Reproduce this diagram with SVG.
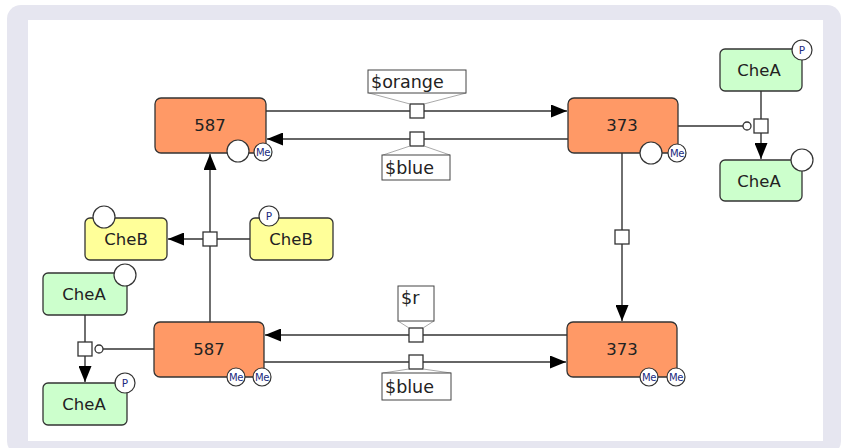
<svg xmlns="http://www.w3.org/2000/svg" width="841" height="448" viewBox="0 0 841 448">
<defs>
<style>
.frame{fill:#e6e6f0}
.inner{fill:#ffffff}
.orange{fill:#ff9966;stroke:#333;stroke-width:1.3}
.green{fill:#ccffcc;stroke:#333;stroke-width:1.3}
.yellow{fill:#ffff99;stroke:#333;stroke-width:1.3}
.sv{fill:#fff;stroke:#333;stroke-width:1.2}
.lbl{font-family:"DejaVu Sans",sans-serif;font-size:16.5px;fill:#222;text-anchor:middle}
.big{font-family:"DejaVu Sans",sans-serif;font-size:17.5px;fill:#222}
.me{font-family:"DejaVu Sans",sans-serif;font-size:10px;fill:#1a2a80;text-anchor:middle;letter-spacing:-0.5px}
.p{font-family:"DejaVu Sans",sans-serif;font-size:10.5px;fill:#1a2a80;text-anchor:middle}
.ln{fill:none;stroke:#333;stroke-width:1.4}
.proc{fill:#fff;stroke:#333;stroke-width:1.3}
.box{fill:#fff;stroke:#444;stroke-width:1}
.call{fill:none;stroke:#aaa;stroke-width:1}
</style>
<marker id="arr" markerUnits="userSpaceOnUse" markerWidth="17" markerHeight="13" refX="16" refY="6.5" orient="auto">
<path d="M0,0 L16,6.5 L0,13 z" fill="#000"/>
</marker>
</defs>
<rect class="frame" x="7" y="5" width="834" height="450" rx="14"/>
<rect class="inner" x="28" y="20" width="795" height="421"/>

<g id="connectors">
<line class="ln" x1="266" y1="111" x2="567" y2="111" marker-end="url(#arr)"/>
<line class="ln" x1="568" y1="139" x2="267" y2="139" marker-end="url(#arr)"/>
<line class="ln" x1="567" y1="335" x2="265" y2="335" marker-end="url(#arr)"/>
<line class="ln" x1="264" y1="362" x2="566" y2="362" marker-end="url(#arr)"/>
<line class="ln" x1="622" y1="153" x2="622" y2="321" marker-end="url(#arr)"/>
<line class="ln" x1="210" y1="322" x2="210" y2="154" marker-end="url(#arr)"/>
<line class="ln" x1="250" y1="239" x2="210" y2="239"/>
<line class="ln" x1="210" y1="239" x2="168" y2="239" marker-end="url(#arr)"/>
<line class="ln" x1="678" y1="126" x2="743" y2="126"/>
<line class="ln" x1="761" y1="91" x2="761" y2="159" marker-end="url(#arr)"/>
<line class="ln" x1="155" y1="349" x2="103" y2="349"/>
<line class="ln" x1="85" y1="315" x2="85" y2="382" marker-end="url(#arr)"/>
<circle class="proc" cx="747" cy="126" r="4"/>
<circle class="proc" cx="99" cy="349" r="4"/>
<rect class="proc" x="754" y="119" width="14" height="14"/>
<rect class="proc" x="78" y="342" width="14" height="14"/>
<rect class="proc" x="203" y="232" width="14" height="14"/>
<rect class="proc" x="615" y="230" width="14" height="14"/>
<rect class="proc" x="410" y="104" width="14" height="14"/>
<rect class="proc" x="410" y="132" width="14" height="14"/>
<rect class="proc" x="409" y="328" width="14" height="14"/>
<rect class="proc" x="409" y="355" width="14" height="14"/>
<g id="label-orange">
<polyline class="call" points="369,93 410,104"/>
<polyline class="call" points="466,93 424,104"/>
<rect class="box" x="368" y="70" width="98" height="23"/>
<text class="big" x="371" y="88">$orange</text>
</g>
<g id="label-blue-top">
<polyline class="call" points="410,146 383,155"/>
<polyline class="call" points="424,146 450,155"/>
<rect class="box" x="382" y="155" width="68" height="25"/>
<text class="big" x="385" y="174">$blue</text>
</g>
<g id="label-r">
<polyline class="call" points="398,321 409,328"/>
<polyline class="call" points="434,321 423,328"/>
<rect class="box" x="398" y="286" width="36" height="35"/>
<text class="big" x="401" y="304">$r</text>
</g>
<g id="label-blue-bottom">
<polyline class="call" points="409,369 383,373"/>
<polyline class="call" points="423,369 451,373"/>
<rect class="box" x="382" y="373" width="69" height="27"/>
<text class="big" x="385" y="393">$blue</text>
</g>
</g>

<g id="n587top">
<rect class="orange" x="155" y="98" width="111" height="55" rx="6"/>
<text class="lbl" x="210" y="131">587</text>
<circle class="sv" cx="238" cy="151" r="11"/>
<circle class="sv" cx="263" cy="152" r="9"/>
<text class="me" x="263" y="155.5">Me</text>
</g>
<g id="n373top">
<rect class="orange" x="568" y="98" width="110" height="55" rx="6"/>
<text class="lbl" x="622" y="131">373</text>
<circle class="sv" cx="651" cy="153" r="11"/>
<circle class="sv" cx="677" cy="153" r="9"/>
<text class="me" x="677" y="156.5">Me</text>
</g>
<g id="n587bottom">
<rect class="orange" x="154" y="322" width="110" height="55" rx="6"/>
<text class="lbl" x="209" y="355">587</text>
<circle class="sv" cx="236" cy="377" r="9"/>
<text class="me" x="236" y="380.5">Me</text>
<circle class="sv" cx="262" cy="377" r="9"/>
<text class="me" x="262" y="380.5">Me</text>
</g>
<g id="n373bottom">
<rect class="orange" x="567" y="322" width="110" height="55" rx="6"/>
<text class="lbl" x="622" y="355">373</text>
<circle class="sv" cx="649" cy="377" r="9"/>
<text class="me" x="649" y="380.5">Me</text>
<circle class="sv" cx="676" cy="377" r="9"/>
<text class="me" x="676" y="380.5">Me</text>
</g>
<g id="cheA-tr">
<rect class="green" x="720" y="49" width="82" height="42" rx="5"/>
<text class="lbl" x="759" y="76">CheA</text>
<circle class="sv" cx="802" cy="50" r="10"/>
<text class="p" x="802" y="54">P</text>
</g>
<g id="cheA-br">
<rect class="green" x="720" y="160" width="82" height="41" rx="5"/>
<text class="lbl" x="759" y="187">CheA</text>
<circle class="sv" cx="802" cy="160" r="11"/>
</g>
<g id="cheB-left">
<rect class="yellow" x="85" y="218" width="82" height="42" rx="5"/>
<text class="lbl" x="126" y="245">CheB</text>
<circle class="sv" cx="104" cy="217" r="11"/>
</g>
<g id="cheB-right">
<rect class="yellow" x="250" y="218" width="83" height="42" rx="5"/>
<text class="lbl" x="291" y="245">CheB</text>
<circle class="sv" cx="269" cy="216" r="10"/>
<text class="p" x="269" y="220">P</text>
</g>
<g id="cheA-lt">
<rect class="green" x="43" y="273" width="84" height="42" rx="5"/>
<text class="lbl" x="84" y="300">CheA</text>
<circle class="sv" cx="125" cy="275" r="11"/>
</g>
<g id="cheA-lb">
<rect class="green" x="43" y="383" width="84" height="42" rx="5"/>
<text class="lbl" x="84" y="410">CheA</text>
<circle class="sv" cx="125" cy="383" r="10"/>
<text class="p" x="125" y="387">P</text>
</g>
</svg>
